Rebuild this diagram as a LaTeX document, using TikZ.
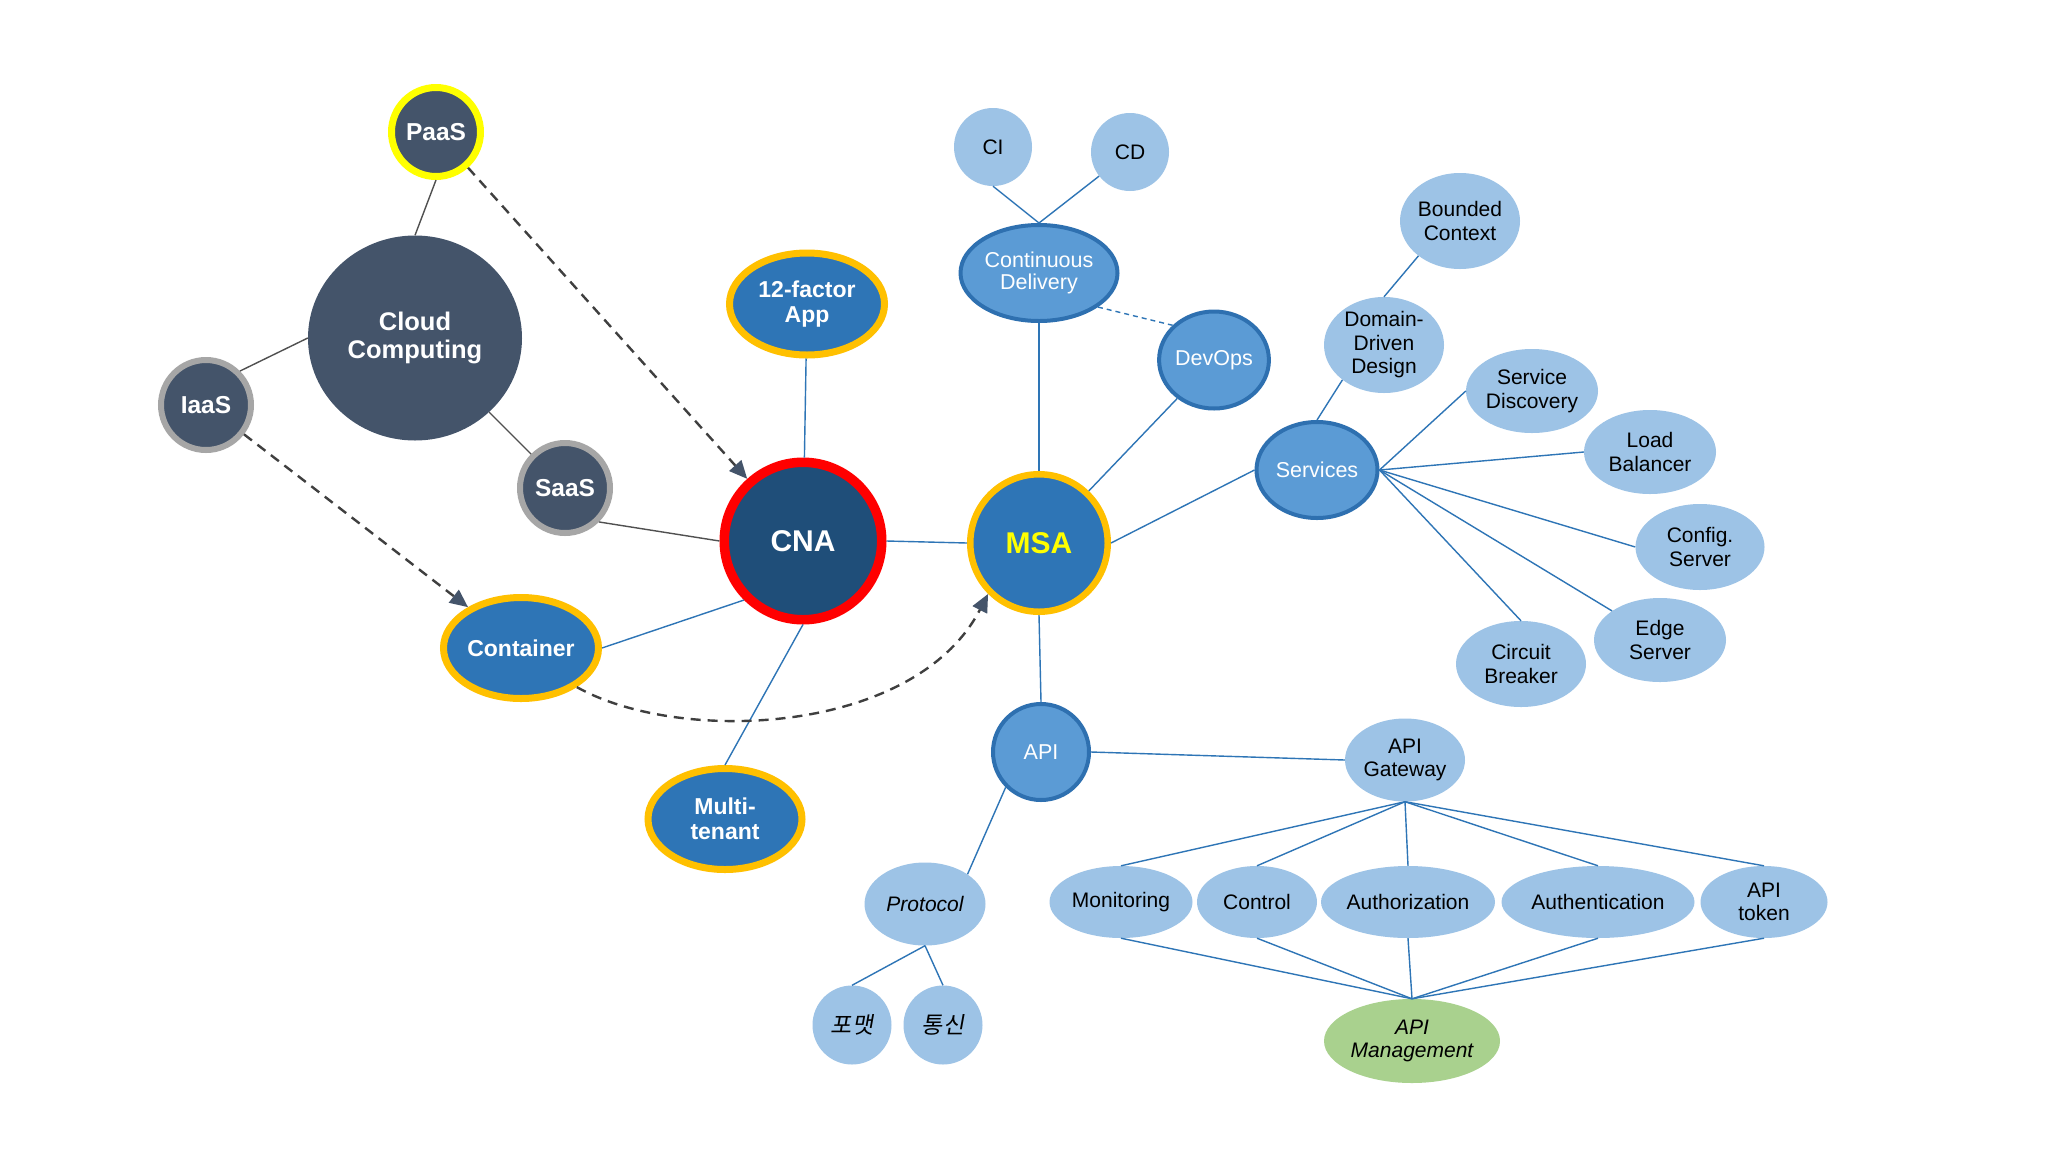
\documentclass[tikz,border=0pt]{standalone}
\usepackage{fontspec}
\setmainfont{Liberation Sans}
\newfontfamily\cjk[FakeSlant=0.18]{Noto Sans CJK KR}
\usetikzlibrary{shapes.geometric,arrows.meta}
\definecolor{slate}{HTML}{44546A}
\definecolor{goldb}{HTML}{FFC000}
\definecolor{yellowb}{HTML}{FFFF00}
\definecolor{grayb}{HTML}{A6A6A6}
\definecolor{redb}{HTML}{FF0000}
\definecolor{cnafill}{HTML}{1F4E79}
\definecolor{bluefill}{HTML}{2E75B6}
\definecolor{midfill}{HTML}{5B9BD5}
\definecolor{midborder}{HTML}{2E70B0}
\definecolor{lightfill}{HTML}{9DC3E6}
\definecolor{greenfill}{HTML}{A9D18E}
\definecolor{linegray}{HTML}{505050}
\definecolor{linkblue}{HTML}{2E75B6}
\definecolor{dashgray}{HTML}{3F3F3F}
\tikzset{
  base/.style={ellipse, inner sep=0pt, align=center},
  sz/.style 2 args={minimum width=#1pt, minimum height=#2pt},
  darkn/.style={base, fill=slate, text=white, font=\bfseries\fontsize{24.5}{27}\selectfont},
  goldn/.style={base, fill=bluefill, draw=goldb, line width=7pt, text=white, font=\bfseries\fontsize{23}{25.5}\selectfont},
  midn/.style={base, fill=midfill, draw=midborder, line width=4pt, text=white, font=\fontsize{21.5}{22.5}\selectfont},
  lightn/.style={base, fill=lightfill, text=black, font=\fontsize{21}{23.5}\selectfont},
  grayline/.style={draw=linegray, line width=1.4pt},
  blueline/.style={draw=linkblue, line width=1.4pt},
  bluedash/.style={draw=linkblue, line width=1.4pt, dash pattern=on 5pt off 4pt},
  dasharrow/.style={draw=dashgray, line width=2.4pt, dash pattern=on 10pt off 7pt,
    -{Triangle[length=18pt,width=16pt,fill=slate,color=slate]}}
}
\begin{document}
\begin{tikzpicture}[x=1pt,y=-1pt]
\fill[white] (0,0) rectangle (2048,1152);
\useasboundingbox (0,0) rectangle (2048,1152);

% cloud group
\node[darkn, draw=yellowb, line width=7pt, sz={89}{89}] (paas) at (436,132) {PaaS};
\node[darkn, sz={214}{205}, font=\bfseries\fontsize{25.5}{28}\selectfont] (cloud) at (415,338) {Cloud\\Computing};
\node[darkn, draw=grayb, line width=6pt, sz={90}{90}] (iaas) at (206,405) {IaaS};
\node[darkn, draw=grayb, line width=6pt, sz={90}{90}] (saas) at (565,488) {SaaS};

% CNA group
\node[base, fill=cnafill, draw=redb, line width=9.5pt, sz={157.5}{157.5}, text=white, font=\bfseries\fontsize{30}{32}\selectfont] (cna) at (803,541) {CNA};
\node[goldn, sz={155}{102}] (twelve) at (807,304) {12-factor\\App};
\node[goldn, sz={155}{101}] (container) at (521,648) {Container};
\node[goldn, sz={154}{101}] (multi) at (725,819) {Multi-\\tenant};

% MSA group
\node[base, fill=bluefill, draw=goldb, line width=6.5pt, sz={137.5}{137.5}, text=yellowb, font=\bfseries\fontsize{30}{32}\selectfont] (msa) at (1039,543) {MSA};
\node[midn, sz={157}{96}] (cdel) at (1039,273) {Continuous\\Delivery};
\node[midn, sz={109}{97}] (devops) at (1214,360) {DevOps};
\node[midn, sz={121}{96}] (services) at (1317,470) {Services};
\node[midn, sz={96}{96}] (api) at (1041,752) {API};

\node[lightn, sz={78}{78}] (ci) at (993,147) {CI};
\node[lightn, sz={78}{78}] (cd) at (1130,152) {CD};

\node[lightn, sz={120}{96}] (bc) at (1460,221) {Bounded\\Context};
\node[lightn, sz={120}{96}] (ddd) at (1384,345) {Domain-\\Driven\\Design};
\node[lightn, sz={132}{84}] (sd) at (1532,391) {Service\\Discovery};
\node[lightn, sz={132}{84}] (lb) at (1650,452) {Load\\Balancer};
\node[lightn, sz={129}{86}] (cfg) at (1700,547) {Config.\\Server};
\node[lightn, sz={132}{84}] (edge) at (1660,640) {Edge\\Server};
\node[lightn, sz={130}{86}] (cb) at (1521,664) {Circuit\\Breaker};

\node[lightn, sz={120}{83}] (gw) at (1405,760) {API\\Gateway};
\node[lightn, sz={121}{83}, font=\itshape\fontsize{21}{23.5}\selectfont] (proto) at (925,904) {Protocol};
\node[lightn, sz={79}{79}, font=\cjk\fontsize{23}{25}\selectfont] (fmt) at (852,1025) {포맷};
\node[lightn, sz={79}{79}, font=\cjk\fontsize{23}{25}\selectfont] (comm) at (943,1025) {통신};

\node[lightn, sz={143}{72}] (mon) at (1121,902) {Monitoring};
\node[lightn, sz={120}{72}] (ctl) at (1257,902) {Control};
\node[lightn, sz={174}{72}] (authz) at (1408,902) {Authorization};
\node[lightn, sz={193}{72}] (authn) at (1598,902) {Authentication};
\node[lightn, sz={127}{72}] (tok) at (1764,902) {API\\token};
\node[base, fill=greenfill, text=black, sz={176}{84}, font=\itshape\fontsize{21}{23.5}\selectfont] (mgmt) at (1412,1041) {API\\Management};

% gray connectors
\draw[grayline] (paas.south) -- (cloud.north);
\draw[grayline] (iaas.45) -- (cloud.west);
\draw[grayline] (cloud) -- (saas);
\draw[grayline] (saas.-45) -- (cna.west);

% blue connectors
\draw[blueline] (twelve) -- (cna);
\draw[blueline] (container.east) -- (cna.225);
\draw[blueline] (cna.south) -- (multi.north);
\draw[blueline] (cna.east) -- (msa.west);
\draw[blueline] (cdel.south) -- (msa.north);
\draw[blueline] (ci.south) -- (cdel.north);
\draw[blueline] (cd) -- (cdel.north);
\draw[bluedash] (cdel.-30) -- (devops.140);
\draw[blueline] (devops) -- (msa);
\draw[blueline] (msa.east) -- (services.west);
\draw[blueline] (msa.south) -- (api.north);
\draw[blueline] (api.east) -- (gw.west);
\draw[blueline] (api.225) -- (proto.35);
\draw[blueline] (proto.south) -- (fmt.north);
\draw[blueline] (proto.south) -- (comm.north);
\draw[blueline] (services.north) -- (ddd.220);
\draw[blueline] (ddd.north) -- (bc.220);
\draw[blueline] (services.east) -- (sd.west);
\draw[blueline] (services.east) -- (lb.west);
\draw[blueline] (services.east) -- (cfg.west);
\draw[blueline] (services.east) -- (edge);
\draw[blueline] (services.east) -- (cb.north);
\foreach \n in {mon,ctl,authz,authn,tok}{
  \draw[blueline] (gw.south) -- (\n.north);
  \draw[blueline] (\n.south) -- (mgmt.north);
}

% dashed arrows
\draw[dasharrow] (paas) -- (cna);
\draw[dasharrow] (iaas) -- (container);
\draw[dasharrow] (container.-35) .. controls (680,745) and (915,735) .. (msa.225);
\end{tikzpicture}
\end{document}
